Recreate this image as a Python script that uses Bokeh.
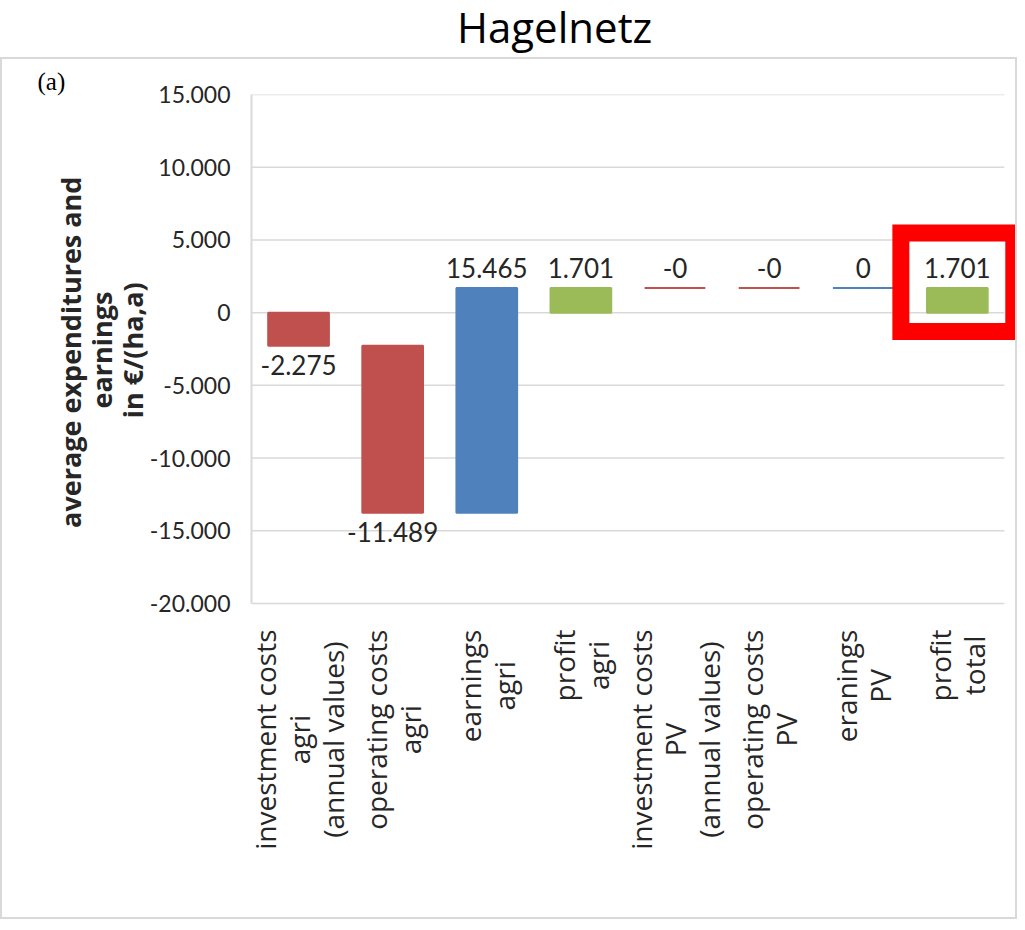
import math
from bokeh.plotting import figure
from bokeh.layouts import column
from bokeh.models import Range1d, FixedTicker, ColumnDataSource, Div, Title
from bokeh.core.properties import value
from bokeh.embed import file_html
from bokeh.resources import INLINE

# ---------------- data ----------------
title_text = "Hagelnetz"
panel_tag = "(a)"
y_label_lines = ["average expenditures and", "earnings", "in €/(ha,a)"]
categories = [
    "investment costs\nagri\n(annual values)",
    "operating costs\nagri",
    "earnings\nagri",
    "profit\nagri",
    "investment costs\nPV\n(annual values)",
    "operating costs\nPV",
    "eranings\nPV",
    "profit\ntotal",
]
values = [-2275.0, -11489.0, 15465.0, 1701.0, -0.0, -0.0, 0.0, 1701.0]
is_total = [False, False, False, True, False, False, False, True]
y_ticks = [-20000, -15000, -10000, -5000, 0, 5000, 10000, 15000]
highlight = "profit\ntotal"

RED, BLUE, GREEN = "#C0504D", "#4F81BD", "#9BBB59"
TEXT = "#262626"
NUM_FONT = "Lato"

# approximate Open Sans advance widths (em), used only to centre text lines
OPEN_SANS_W = {" ": .260, "(": .281, ")": .281, "P": .598, "V": .579, "a": .556,
               "c": .476, "e": .561, "f": .339, "g": .548, "i": .253, "l": .253,
               "m": .930, "n": .614, "o": .604, "p": .613, "r": .408, "s": .477,
               "t": .353, "u": .614, "v": .501}
OPEN_SANS_BOLD_W = {" ": .260, "(": .339, ")": .339, "/": .384, ",": .280, "€": .572,
                    "a": .590, "d": .629, "e": .581, "g": .556, "h": .643, "i": .297,
                    "n": .643, "p": .629, "r": .448, "s": .492, "t": .388, "u": .643,
                    "v": .566, "x": .566}
CAT_FONT_PX = 28
YLAB_FONT_PX = 27


def de_fmt(v):
    return f"{v:,.0f}".replace(",", ".")


def text_len(s, table, px):
    return sum(table.get(ch, 0.56) for ch in s) * px


# ---------------- waterfall geometry ----------------
xs = list(range(1, len(categories) + 1))
bottoms, tops, colors = [], [], []
running = 0.0
for v, tot in zip(values, is_total):
    if tot:
        b, t = 0.0, running
        col = GREEN
    else:
        b, t = running, running + v
        running = t
        col = RED if math.copysign(1, v) < 0 else BLUE
    bottoms.append(b)
    tops.append(t)
    colors.append(col)

lab_y, lab_off = [], []
for b, t in zip(bottoms, tops):
    if t < b:
        lab_y.append(t)
        lab_off.append(19)
    else:
        lab_y.append(max(b, t))
        lab_off.append(-20)

src = ColumnDataSource(dict(x=xs, bottom=bottoms, top=tops, color=colors,
                            ly=lab_y, loff=lab_off,
                            label=[de_fmt(v) for v in values]))

# category label lines (rotated, each block centred, block end near the axis)
LINE_GAP = 34
cx, cxo, cyo, ctext = [], [], [], []
for x, c in zip(xs, categories):
    lines = c.split("\n")
    k = len(lines)
    lmax = max(text_len(l, OPEN_SANS_W, CAT_FONT_PX) for l in lines)
    for i, l in enumerate(lines):
        cx.append(x)
        cxo.append((i - (k - 1) / 2) * LINE_GAP)
        cyo.append(26 + lmax / 2)
        ctext.append(l)
cat_src = ColumnDataSource(dict(x=cx, y=[y_ticks[0]] * len(cx), xo=cxo, yo=cyo, text=ctext))

# ---------------- figure ----------------
n = len(categories)
W, H = 1017, 862
MB_TOP, MB_BOTTOM = 35, 30
TICK_SPAN_PX = 509           # pixel height of the y_ticks span
frame_h = H - MB_TOP - MB_BOTTOM
y_start = y_ticks[-1] - frame_h / TICK_SPAN_PX * (y_ticks[-1] - y_ticks[0])

p = figure(width=W, height=H, output_backend="svg", toolbar_location=None,
           x_range=Range1d(0.5, n + 0.5 + 0.15), y_range=Range1d(y_start, y_ticks[-1]),
           min_border_left=249, min_border_right=1, min_border_top=MB_TOP,
           min_border_bottom=MB_BOTTOM)
p.outline_line_color = None
p.grid.visible = False
p.background_fill_color = "white"
p.border_fill_color = "white"
p.styles = {"border": "2px solid #d9d9d9"}

p.title.text = panel_tag
p.title.text_font = "Liberation Serif"
p.title.text_font_size = "25px"
p.title.text_font_style = "normal"
p.title.text_color = "#000000"
p.title.align = "left"
p.title.offset = -214
p.title.standoff = 0

# axes
yax = p.yaxis[0]
yax.bounds = (y_ticks[0], y_ticks[-1])
yax.ticker = FixedTicker(ticks=y_ticks)
yax.major_label_overrides = {t: de_fmt(t) for t in y_ticks}
yax.major_label_text_font = NUM_FONT
yax.major_label_text_font_size = "23px"
yax.major_label_text_color = TEXT
yax.major_tick_line_color = None
yax.minor_tick_line_color = None
yax.axis_line_color = "#d9d9d9"
yax.axis_line_width = 2
yax.major_label_standoff = 15

# blank spacer panel: leaves a gap between tick labels and the axis title
p.add_layout(Title(text=" ", text_font_size="1px", text_alpha=0, standoff=23), "left")

# y axis title: one line per Title, nearest line first, each centred on the tick span
for line in reversed(y_label_lines):
    L = text_len(line, OPEN_SANS_BOLD_W, YLAB_FONT_PX)
    p.add_layout(Title(text=line, align="right", offset=TICK_SPAN_PX / 2 - L / 2,
                       text_font="Open Sans", text_font_style="bold",
                       text_font_size=f"{YLAB_FONT_PX}px", text_color=TEXT,
                       standoff=-8), "left")

# gridlines
p.segment(x0=[0.5] * len(y_ticks), x1=[n + 0.5] * len(y_ticks), y0=y_ticks, y1=y_ticks,
          line_color="#d9d9d9", line_width=1.5)

# bars
p.vbar(x="x", bottom="bottom", top="top", width=0.645, fill_color="color",
       line_color="color", line_width=2, source=src)

# value labels
p.text(x="x", y="ly", text="label", y_offset="loff", source=src, text_align="center",
       text_baseline="alphabetic", text_font=value(NUM_FONT), text_font_size="26px",
       text_color=TEXT)

# category labels
p.text(x="x", y="y", text="text", x_offset="xo", y_offset="yo", source=cat_src,
       angle=math.pi / 2, text_align="center", text_baseline="middle",
       text_font=value("Open Sans"), text_font_size=f"{CAT_FONT_PX}px", text_color=TEXT)

# highlight box around the final total
hi = categories.index(highlight) + 1
box_lo, box_hi = tops[hi - 1] - 3000, tops[hi - 1] + 3780
p.rect(x=[hi], y=[(box_lo + box_hi) / 2], width=1.2, height=box_hi - box_lo,
       fill_color=None, line_color="#FF0000", line_width=17, line_join="miter")

p.xaxis.visible = False

title_div = Div(text=f'<span style="margin-left:452px">{title_text}</span>',
                width=W, height=47,
                styles={"font-family": "Open Sans", "font-size": "42px",
                        "color": "#000000", "line-height": "44px",
                        "white-space": "nowrap"})

open("out.html", "w").write(file_html(column(title_div, p), INLINE))
